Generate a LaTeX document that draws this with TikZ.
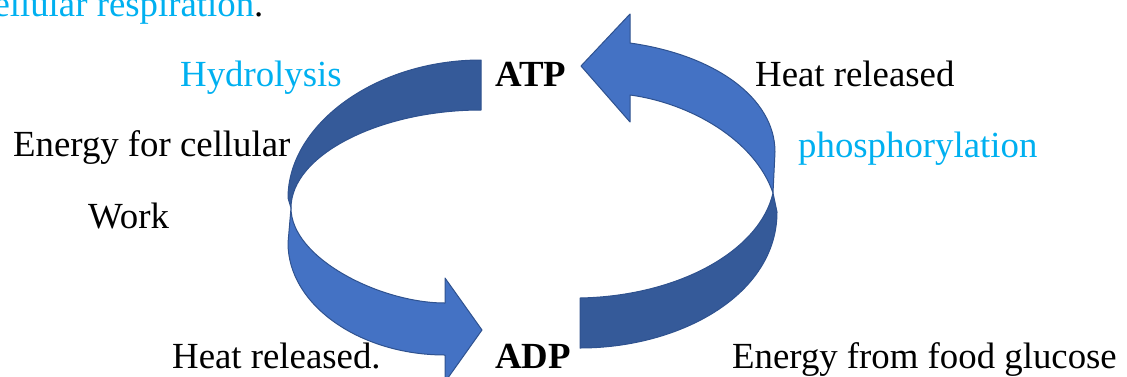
\documentclass[tikz,border=0pt]{standalone}
\usepackage{fontspec}
\setmainfont{Liberation Serif}
\definecolor{bandback}{HTML}{355A99}
\definecolor{bandfront}{HTML}{4472C4}
\definecolor{bandline}{HTML}{2F528F}
\definecolor{termblue}{HTML}{00B0F0}
\tikzset{
  lbl/.style={anchor=base west,inner sep=0pt,font=\fontsize{36.8}{44}\selectfont},
  term/.style={lbl,text=termblue},
  mol/.style={lbl,font=\fontsize{36.8}{44}\selectfont\bfseries},
  back/.style={fill=bandback,draw=bandline,line width=1pt,line join=round},
  front/.style={fill=bandfront,draw=bandline,line width=1pt,line join=round}
}
\begin{document}
\begin{tikzpicture}[yscale=-1,x=1pt,y=1pt]
    \useasboundingbox (0,0) rectangle (1127,376);

    % left arrow, ATP -> ADP
    \fill[back] (481,60) .. controls (375,60) and (288,125) .. (288,198) -- (291,208) .. controls (291,155) and (380,110) .. (481,110) -- cycle;
    \fill[front] (291,208) .. controls (291,258) and (380,303) .. (445,303) -- (445,278) -- (482,330) -- (445,382) -- (445,355) .. controls (360,355) and (288,305) .. (288,243) -- cycle;

    % right arrow, ADP -> ATP
    \fill[back] (580,298) .. controls (680,296) and (760,250) .. (773,193) -- (777,212) .. controls (777,295) and (680,348) .. (580,348) -- cycle;
    \fill[front] (630,43) .. controls (715,55) and (775,98) .. (775,152) -- (773,193) .. controls (755,140) and (690,103) .. (630,95) -- (630,122) -- (581,66) -- (630,14) -- cycle;

    \node[lbl] (resp) at (-23,16) {\textcolor{termblue}{cellular respiration}.};
    \node[term] (hydro) at (180,86) {Hydrolysis};
    \node[mol] (atp) at (495,86) {ATP};
    \node[lbl] (heatup) at (755,86) {Heat released};
    \node[lbl] (work1) at (13,156) {Energy for cellular};
    \node[term] (phos) at (798,157) {phosphorylation};
    \node[lbl] (work2) at (88,228) {Work};
    \node[lbl] (heatdown) at (172,368) {Heat released.};
    \node[mol] (adp) at (495,368) {ADP};
    \node[lbl] (food) at (732,368) {Energy from food glucose};
\end{tikzpicture}
\end{document}
